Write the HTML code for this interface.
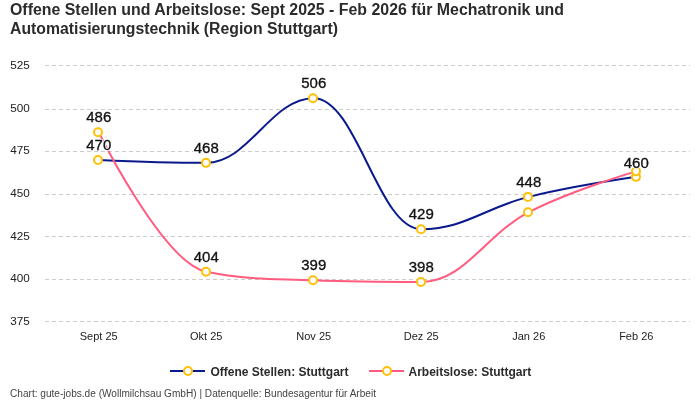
<!DOCTYPE html>
<html><head><meta charset="utf-8"><style>
html,body{margin:0;padding:0;background:#fff;width:700px;height:400px;overflow:hidden}
svg{display:block;will-change:transform}
</style></head><body>
<svg width="700" height="400" viewBox="0 0 700 400">
<rect width="700" height="400" fill="#ffffff"/>
<text x="10" y="14.5" font-family='"Liberation Sans", sans-serif' font-weight="bold" font-size="16" fill="#2b2b2b" textLength="554" lengthAdjust="spacingAndGlyphs">Offene Stellen und Arbeitslose: Sept 2025 - Feb 2026 für Mechatronik und</text>
<text x="10" y="33.5" font-family='"Liberation Sans", sans-serif' font-weight="bold" font-size="16" fill="#2b2b2b" textLength="328" lengthAdjust="spacingAndGlyphs">Automatisierungstechnik (Region Stuttgart)</text>
<line x1="45" y1="65.5" x2="690" y2="65.5" stroke="#cccccc" stroke-width="1" stroke-dasharray="4,3"/>
<line x1="45" y1="109.5" x2="690" y2="109.5" stroke="#cccccc" stroke-width="1" stroke-dasharray="4,3"/>
<line x1="45" y1="151.5" x2="690" y2="151.5" stroke="#cccccc" stroke-width="1" stroke-dasharray="4,3"/>
<line x1="45" y1="194.5" x2="690" y2="194.5" stroke="#cccccc" stroke-width="1" stroke-dasharray="4,3"/>
<line x1="45" y1="236.5" x2="690" y2="236.5" stroke="#cccccc" stroke-width="1" stroke-dasharray="4,3"/>
<line x1="45" y1="279.5" x2="690" y2="279.5" stroke="#cccccc" stroke-width="1" stroke-dasharray="4,3"/>
<line x1="45" y1="321.5" x2="690" y2="321.5" stroke="#cccccc" stroke-width="1" stroke-dasharray="4,3"/>
<text x="10.2" y="69.34" font-family='"Liberation Sans", sans-serif' font-size="11" fill="#222222" textLength="19.6" lengthAdjust="spacingAndGlyphs">525</text>
<text x="10.2" y="111.89" font-family='"Liberation Sans", sans-serif' font-size="11" fill="#222222" textLength="19.6" lengthAdjust="spacingAndGlyphs">500</text>
<text x="10.2" y="154.43" font-family='"Liberation Sans", sans-serif' font-size="11" fill="#222222" textLength="19.6" lengthAdjust="spacingAndGlyphs">475</text>
<text x="10.2" y="196.98" font-family='"Liberation Sans", sans-serif' font-size="11" fill="#222222" textLength="19.6" lengthAdjust="spacingAndGlyphs">450</text>
<text x="10.2" y="239.52" font-family='"Liberation Sans", sans-serif' font-size="11" fill="#222222" textLength="19.6" lengthAdjust="spacingAndGlyphs">425</text>
<text x="10.2" y="282.06" font-family='"Liberation Sans", sans-serif' font-size="11" fill="#222222" textLength="19.6" lengthAdjust="spacingAndGlyphs">400</text>
<text x="10.2" y="324.61" font-family='"Liberation Sans", sans-serif' font-size="11" fill="#222222" textLength="19.6" lengthAdjust="spacingAndGlyphs">375</text>
<text x="98.75" y="340" text-anchor="middle" font-family='"Liberation Sans", sans-serif' font-size="11" fill="#222222">Sept 25</text>
<text x="206.25" y="340" text-anchor="middle" font-family='"Liberation Sans", sans-serif' font-size="11" fill="#222222">Okt 25</text>
<text x="313.75" y="340" text-anchor="middle" font-family='"Liberation Sans", sans-serif' font-size="11" fill="#222222">Nov 25</text>
<text x="421.25" y="340" text-anchor="middle" font-family='"Liberation Sans", sans-serif' font-size="11" fill="#222222">Dez 25</text>
<text x="528.75" y="340" text-anchor="middle" font-family='"Liberation Sans", sans-serif' font-size="11" fill="#222222">Jan 26</text>
<text x="636.25" y="340" text-anchor="middle" font-family='"Liberation Sans", sans-serif' font-size="11" fill="#222222">Feb 26</text>
<path d="M 98.75 159.94 C 98.75 159.94 163.25 162.84 206.25 162.84 C 249.25 162.84 270.75 98.17 313.75 98.17 C 356.75 98.17 378.25 229.21 421.25 229.21 C 464.25 229.21 485.75 207.35 528.75 196.88 C 571.75 186.41 636.25 176.86 636.25 176.86" fill="none" stroke="#0a1a8c" stroke-width="2" stroke-linejoin="round" stroke-linecap="round"/>
<path d="M 98.75 132.21 C 98.75 132.21 163.25 263.25 206.25 271.76 C 249.25 280.27 270.75 278.56 313.75 280.27 C 356.75 281.97 378.25 281.97 421.25 281.97 C 464.25 281.97 485.75 234.32 528.75 212.19 C 571.75 190.07 636.25 171.35 636.25 171.35" fill="none" stroke="#ff5c7f" stroke-width="2" stroke-linejoin="round" stroke-linecap="round"/>
<circle cx="98" cy="159.94" r="4" fill="#ffffff" stroke="#ffc107" stroke-width="2"/>
<circle cx="206" cy="162.84" r="4" fill="#ffffff" stroke="#ffc107" stroke-width="2"/>
<circle cx="313" cy="98.17" r="4" fill="#ffffff" stroke="#ffc107" stroke-width="2"/>
<circle cx="421" cy="229.21" r="4" fill="#ffffff" stroke="#ffc107" stroke-width="2"/>
<circle cx="528" cy="196.88" r="4" fill="#ffffff" stroke="#ffc107" stroke-width="2"/>
<circle cx="636" cy="176.86" r="4" fill="#ffffff" stroke="#ffc107" stroke-width="2"/>
<circle cx="98" cy="132.21" r="4" fill="#ffffff" stroke="#ffc107" stroke-width="2"/>
<circle cx="206" cy="271.76" r="4" fill="#ffffff" stroke="#ffc107" stroke-width="2"/>
<circle cx="313" cy="280.27" r="4" fill="#ffffff" stroke="#ffc107" stroke-width="2"/>
<circle cx="421" cy="281.97" r="4" fill="#ffffff" stroke="#ffc107" stroke-width="2"/>
<circle cx="528" cy="212.19" r="4" fill="#ffffff" stroke="#ffc107" stroke-width="2"/>
<circle cx="636" cy="171.35" r="4" fill="#ffffff" stroke="#ffc107" stroke-width="2"/>
<text x="86.25" y="149.94" font-family='"Liberation Sans", sans-serif' font-size="14" fill="#111111" stroke="#ffffff" stroke-width="2" stroke-linejoin="round" textLength="25.0" lengthAdjust="spacingAndGlyphs">470</text>
<text x="86.25" y="149.94" font-family='"Liberation Sans", sans-serif' font-size="14" fill="#111111" stroke="#111111" stroke-width="0.3" textLength="25.0" lengthAdjust="spacingAndGlyphs">470</text>
<text x="193.75" y="152.84" font-family='"Liberation Sans", sans-serif' font-size="14" fill="#111111" stroke="#ffffff" stroke-width="2" stroke-linejoin="round" textLength="25.0" lengthAdjust="spacingAndGlyphs">468</text>
<text x="193.75" y="152.84" font-family='"Liberation Sans", sans-serif' font-size="14" fill="#111111" stroke="#111111" stroke-width="0.3" textLength="25.0" lengthAdjust="spacingAndGlyphs">468</text>
<text x="301.25" y="88.17" font-family='"Liberation Sans", sans-serif' font-size="14" fill="#111111" stroke="#ffffff" stroke-width="2" stroke-linejoin="round" textLength="25.0" lengthAdjust="spacingAndGlyphs">506</text>
<text x="301.25" y="88.17" font-family='"Liberation Sans", sans-serif' font-size="14" fill="#111111" stroke="#111111" stroke-width="0.3" textLength="25.0" lengthAdjust="spacingAndGlyphs">506</text>
<text x="408.75" y="219.21" font-family='"Liberation Sans", sans-serif' font-size="14" fill="#111111" stroke="#ffffff" stroke-width="2" stroke-linejoin="round" textLength="25.0" lengthAdjust="spacingAndGlyphs">429</text>
<text x="408.75" y="219.21" font-family='"Liberation Sans", sans-serif' font-size="14" fill="#111111" stroke="#111111" stroke-width="0.3" textLength="25.0" lengthAdjust="spacingAndGlyphs">429</text>
<text x="516.25" y="186.88" font-family='"Liberation Sans", sans-serif' font-size="14" fill="#111111" stroke="#ffffff" stroke-width="2" stroke-linejoin="round" textLength="25.0" lengthAdjust="spacingAndGlyphs">448</text>
<text x="516.25" y="186.88" font-family='"Liberation Sans", sans-serif' font-size="14" fill="#111111" stroke="#111111" stroke-width="0.3" textLength="25.0" lengthAdjust="spacingAndGlyphs">448</text>
<text x="623.75" y="167.56" font-family='"Liberation Sans", sans-serif' font-size="14" fill="#111111" stroke="#ffffff" stroke-width="2" stroke-linejoin="round" textLength="25.0" lengthAdjust="spacingAndGlyphs">460</text>
<text x="623.75" y="167.56" font-family='"Liberation Sans", sans-serif' font-size="14" fill="#111111" stroke="#111111" stroke-width="0.3" textLength="25.0" lengthAdjust="spacingAndGlyphs">460</text>
<text x="86.25" y="122.21" font-family='"Liberation Sans", sans-serif' font-size="14" fill="#111111" stroke="#ffffff" stroke-width="2" stroke-linejoin="round" textLength="25.0" lengthAdjust="spacingAndGlyphs">486</text>
<text x="86.25" y="122.21" font-family='"Liberation Sans", sans-serif' font-size="14" fill="#111111" stroke="#111111" stroke-width="0.3" textLength="25.0" lengthAdjust="spacingAndGlyphs">486</text>
<text x="193.75" y="261.76" font-family='"Liberation Sans", sans-serif' font-size="14" fill="#111111" stroke="#ffffff" stroke-width="2" stroke-linejoin="round" textLength="25.0" lengthAdjust="spacingAndGlyphs">404</text>
<text x="193.75" y="261.76" font-family='"Liberation Sans", sans-serif' font-size="14" fill="#111111" stroke="#111111" stroke-width="0.3" textLength="25.0" lengthAdjust="spacingAndGlyphs">404</text>
<text x="301.25" y="270.27" font-family='"Liberation Sans", sans-serif' font-size="14" fill="#111111" stroke="#ffffff" stroke-width="2" stroke-linejoin="round" textLength="25.0" lengthAdjust="spacingAndGlyphs">399</text>
<text x="301.25" y="270.27" font-family='"Liberation Sans", sans-serif' font-size="14" fill="#111111" stroke="#111111" stroke-width="0.3" textLength="25.0" lengthAdjust="spacingAndGlyphs">399</text>
<text x="408.75" y="271.97" font-family='"Liberation Sans", sans-serif' font-size="14" fill="#111111" stroke="#ffffff" stroke-width="2" stroke-linejoin="round" textLength="25.0" lengthAdjust="spacingAndGlyphs">398</text>
<text x="408.75" y="271.97" font-family='"Liberation Sans", sans-serif' font-size="14" fill="#111111" stroke="#111111" stroke-width="0.3" textLength="25.0" lengthAdjust="spacingAndGlyphs">398</text>
<line x1="170" y1="371" x2="205" y2="371" stroke="#0a1a8c" stroke-width="2"/>
<circle cx="188" cy="371" r="4" fill="#ffffff" stroke="#ffc107" stroke-width="2"/>
<text x="210.5" y="375.5" font-family='"Liberation Sans", sans-serif' font-weight="bold" font-size="12" fill="#2b2b2b">Offene Stellen: Stuttgart</text>
<line x1="369" y1="371" x2="404" y2="371" stroke="#ff5c7f" stroke-width="2"/>
<circle cx="387" cy="371" r="4" fill="#ffffff" stroke="#ffc107" stroke-width="2"/>
<text x="408.5" y="375.5" font-family='"Liberation Sans", sans-serif' font-weight="bold" font-size="12" fill="#2b2b2b">Arbeitslose: Stuttgart</text>
<text x="10" y="396.5" font-family='"Liberation Sans", sans-serif' font-size="10" fill="#444444" textLength="366" lengthAdjust="spacingAndGlyphs">Chart: gute-jobs.de (Wollmilchsau GmbH) | Datenquelle: Bundesagentur für Arbeit</text>
</svg>
</body></html>
